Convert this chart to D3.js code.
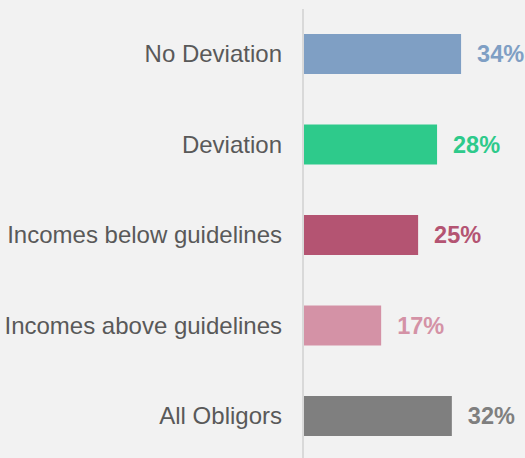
<!DOCTYPE html>
<html><head><meta charset="utf-8">
<script src="https://cdn.jsdelivr.net/npm/d3@7"></script>
<style>
html,body{margin:0;padding:0;background:#f2f2f2;}
svg{display:block;}
</style></head>
<body>
<script>
const categories = ["No Deviation","Deviation","Incomes below guidelines","Incomes above guidelines","All Obligors"];
const values = [34, 28.8, 24.7, 16.7, 32];
const labels = ["34%","28%","25%","17%","32%"];
const colors = ["#7f9fc4","#2eca8b","#b45472","#d492a6","#7f7f7f"];

const W = 525, H = 458;
const svg = d3.select("body").append("svg").attr("width", W).attr("height", H);
svg.append("rect").attr("width", W).attr("height", H).attr("fill", "#f2f2f2");

const x = d3.scaleLinear().domain([0, 100]).range([304, 766]);
const y = d3.scaleBand().domain(categories).range([8.75, 461.25]).paddingInner(0.558).paddingOuter(0.279);

svg.selectAll("rect.bar").data(categories).join("rect")
  .attr("class","bar")
  .attr("x", x(0))
  .attr("y", d => y(d))
  .attr("width", (d,i) => x(values[i]) - x(0))
  .attr("height", y.bandwidth())
  .attr("fill", (d,i) => colors[i]);

svg.append("line").attr("x1",303).attr("x2",303).attr("y1",9).attr("y2",H)
  .attr("stroke","#d9d9d9").attr("stroke-width",2);

svg.selectAll("text.cat").data(categories).join("text")
  .attr("class","cat")
  .attr("x", 282)
  .attr("y", d => y(d) + y.bandwidth()/2)
  .attr("dy","0.35em")
  .attr("text-anchor","end")
  .attr("font-family","Liberation Sans, Arial, sans-serif")
  .attr("font-size", 24)
  .attr("fill","#595959")
  .text(d => d);

svg.selectAll("text.val").data(categories).join("text")
  .attr("class","val")
  .attr("x", (d,i) => x(values[i]) + 16)
  .attr("y", d => y(d) + y.bandwidth()/2)
  .attr("dy","0.35em")
  .attr("font-family","Liberation Sans, Arial, sans-serif")
  .attr("font-weight","bold")
  .attr("font-size", 23.5)
  .attr("fill", (d,i) => colors[i])
  .text((d,i) => labels[i]);
</script>
</body></html>
